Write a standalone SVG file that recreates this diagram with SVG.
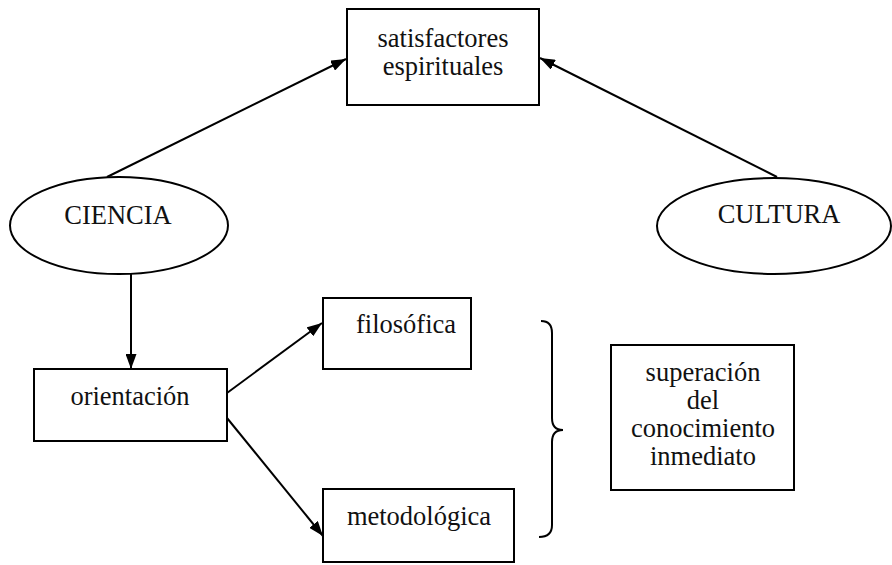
<svg xmlns="http://www.w3.org/2000/svg" width="892" height="565" viewBox="0 0 892 565">
<defs>
<marker id="ah" viewBox="0 0 15 11" refX="15" refY="5.5" markerWidth="15" markerHeight="11" markerUnits="userSpaceOnUse" orient="auto">
<path d="M0,0 L15,5.5 L0,11 Z" fill="#000"/>
</marker>
</defs>
<style>
.box{fill:#fff;stroke:#000;stroke-width:2}
.ell{fill:#fff;stroke:#000;stroke-width:2}
.t{font-family:"Liberation Serif","Times New Roman",serif;font-size:26.5px;fill:#111;text-anchor:middle}
.c{fill:none;stroke:#000;stroke-width:2}
</style>
<rect width="892" height="565" fill="#fff"/>
<g id="connectors">
<line class="c" x1="107" y1="177" x2="346" y2="59" marker-end="url(#ah)"/>
<line class="c" x1="777" y1="177" x2="540" y2="58" marker-end="url(#ah)"/>
<line class="c" x1="131" y1="274" x2="131" y2="369" marker-end="url(#ah)"/>
<line class="c" x1="227" y1="393" x2="322" y2="323" marker-end="url(#ah)"/>
<line class="c" x1="227" y1="418" x2="323" y2="536" marker-end="url(#ah)"/>
</g>
<g id="satisfactores">
<rect class="box" x="347" y="9" width="192" height="96"/>
<text class="t" x="443" y="47">satisfactores</text>
<text class="t" x="443" y="75">espirituales</text>
</g>
<g id="ciencia">
<ellipse class="ell" cx="119" cy="225.5" rx="109" ry="48.5"/>
<text class="t" x="118" y="224">CIENCIA</text>
</g>
<g id="cultura">
<ellipse class="ell" cx="774" cy="226" rx="117" ry="48"/>
<text class="t" x="779" y="223">CULTURA</text>
</g>
<g id="orientacion">
<rect class="box" x="34" y="369" width="193" height="72"/>
<text class="t" x="130" y="405">orientación</text>
</g>
<g id="filosofica">
<rect class="box" x="323" y="298" width="148" height="71"/>
<text class="t" x="406" y="333">filosófica</text>
</g>
<g id="metodologica">
<rect class="box" x="323" y="489" width="191" height="73"/>
<text class="t" x="419" y="525">metodológica</text>
</g>
<g id="brace">
<path class="c" d="M541,321 Q552,321 552,333 L552,418 Q552,430 563,430 Q552,430 552,442 L552,525 Q552,537 539,537"/>
</g>
<g id="superacion">
<rect class="box" x="611" y="345" width="183" height="145"/>
<text class="t" x="703" y="381">superación</text>
<text class="t" x="703" y="409">del</text>
<text class="t" x="703" y="437">conocimiento</text>
<text class="t" x="703" y="465">inmediato</text>
</g>
</svg>
